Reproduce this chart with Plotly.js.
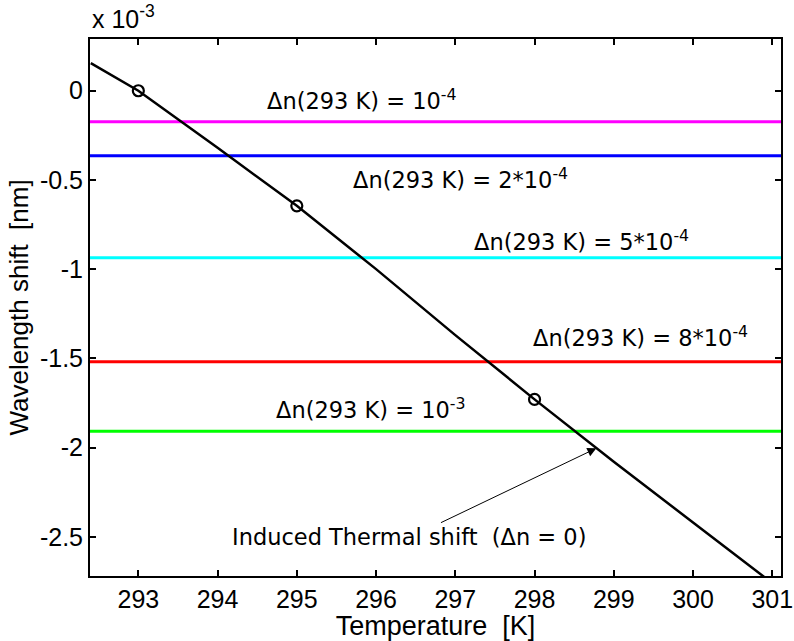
<!DOCTYPE html>
<html>
<head>
<meta charset="utf-8">
<script src="https://cdn.plot.ly/plotly-3.0.1.min.js"></script>
<style>html,body{margin:0;padding:0;background:#fff;}#chart{width:794px;height:641px;}</style>
</head>
<body>
<div id="chart"></div>
<script>
// Temperature [K] and wavelength shift [nm, x 10^-3] of the induced thermal shift curve
const temperature = [292.4, 293, 294, 295, 296, 297, 298, 299, 300, 301];
const thermalShift = [0.155, 0, -0.32, -0.645, -1.0, -1.37, -1.73, -2.08, -2.42, -2.76];

// Marked computation points
const markerTemps = [293, 295, 298];
const markerShifts = [0, -0.645, -1.73];

// Horizontal reference levels
const levelLabels = ["Δn(293 K) = 10<sup>-4</sup>", "Δn(293 K) = 2*10<sup>-4</sup>", "Δn(293 K) = 5*10<sup>-4</sup>", "Δn(293 K) = 8*10<sup>-4</sup>", "Δn(293 K) = 10<sup>-3</sup>"];
const levelValues = [-0.174, -0.364, -0.936, -1.519, -1.908];
const levelColors = ["#ff00ff", "#0000ff", "#00ffff", "#ff0000", "#00ff00"];
const levelLabelX = [295.82, 297.06, 298.59, 299.34, 295.93];
const levelLabelY = [-0.05, -0.49, -0.84, -1.38, -1.78];

// Axis ticks
const xTicks = [293, 294, 295, 296, 297, 298, 299, 300, 301];
const yTicks = [0, -0.5, -1, -1.5, -2, -2.5];
const yTickText = ["0", "-0.5", "-1", "-1.5", "-2", "-2.5"];

const xRange = [292.39, 301.11];
const yRange = [-2.72, 0.29];

const FONT = "Liberation Sans, Arial, Helvetica, sans-serif";
const AFONT = "DejaVu Sans, Verdana, sans-serif";

const traces = [];
levelValues.forEach((v, i) => {
  traces.push({
    x: xRange, y: [v, v], mode: "lines", type: "scatter",
    line: {color: levelColors[i], width: 3}, hoverinfo: "skip", showlegend: false
  });
});
traces.push({
  x: temperature, y: thermalShift, mode: "lines", type: "scatter",
  line: {color: "#000000", width: 2.5}, showlegend: false
});
traces.push({
  x: markerTemps, y: markerShifts, mode: "markers", type: "scatter",
  marker: {symbol: "circle-open", size: 11, color: "#000000", line: {width: 2.2, color: "#000000"}},
  showlegend: false
});

const annotations = levelLabels.map((t, i) => ({
  x: levelLabelX[i], y: levelLabelY[i], xref: "x", yref: "y",
  text: t, showarrow: false, font: {family: AFONT, size: 22.5, color: "#000"}
}));
annotations.push({
  x: 296.41, y: -2.5, xref: "x", yref: "y",
  text: "Induced Thermal shift \u00a0(Δn = 0)", showarrow: false,
  font: {family: AFONT, size: 22.5, color: "#000"}
});
annotations.push({
  x: 298.78, y: -2.004, xref: "x", yref: "y",
  ax: 296.8, ay: -2.425, axref: "x", ayref: "y",
  text: "", showarrow: true, arrowhead: 2, arrowsize: 1.8, arrowwidth: 1, arrowcolor: "#000", standoff: 0
});
annotations.push({
  x: 0, y: 1, xref: "paper", yref: "paper", xanchor: "left", yanchor: "bottom", yshift: 4,
  text: "x 10<sup>-3</sup>", showarrow: false, font: {family: FONT, size: 25, color: "#000"}
});

const layout = {
  width: 794, height: 641,
  margin: {l: 90, r: 13, t: 39, b: 65},
  paper_bgcolor: "#ffffff", plot_bgcolor: "#ffffff",
  showlegend: false,
  xaxis: {
    range: xRange, tickvals: xTicks, ticktext: xTicks.map(String),
    ticks: "inside", ticklen: 6, tickwidth: 2, tickcolor: "#000",
    showline: true, linecolor: "#000", linewidth: 2, mirror: "ticks",
    showgrid: false, zeroline: false,
    tickfont: {family: FONT, size: 25, color: "#000"},
    title: {text: "Temperature \u00a0[K]", font: {family: FONT, size: 27, color: "#000"}, standoff: 4}
  },
  yaxis: {
    range: yRange, tickvals: yTicks, ticktext: yTickText,
    ticks: "inside", ticklen: 6, tickwidth: 2, tickcolor: "#000",
    showline: true, linecolor: "#000", linewidth: 2, mirror: "ticks",
    showgrid: false, zeroline: false,
    tickfont: {family: FONT, size: 25, color: "#000"},
    title: {text: "Wavelength shift \u00a0[nm]", font: {family: FONT, size: 26, color: "#000"}, standoff: 4}
  },
  annotations: annotations
};

Plotly.newPlot("chart", traces, layout, {displayModeBar: false, staticPlot: true});
</script>
</body>
</html>
